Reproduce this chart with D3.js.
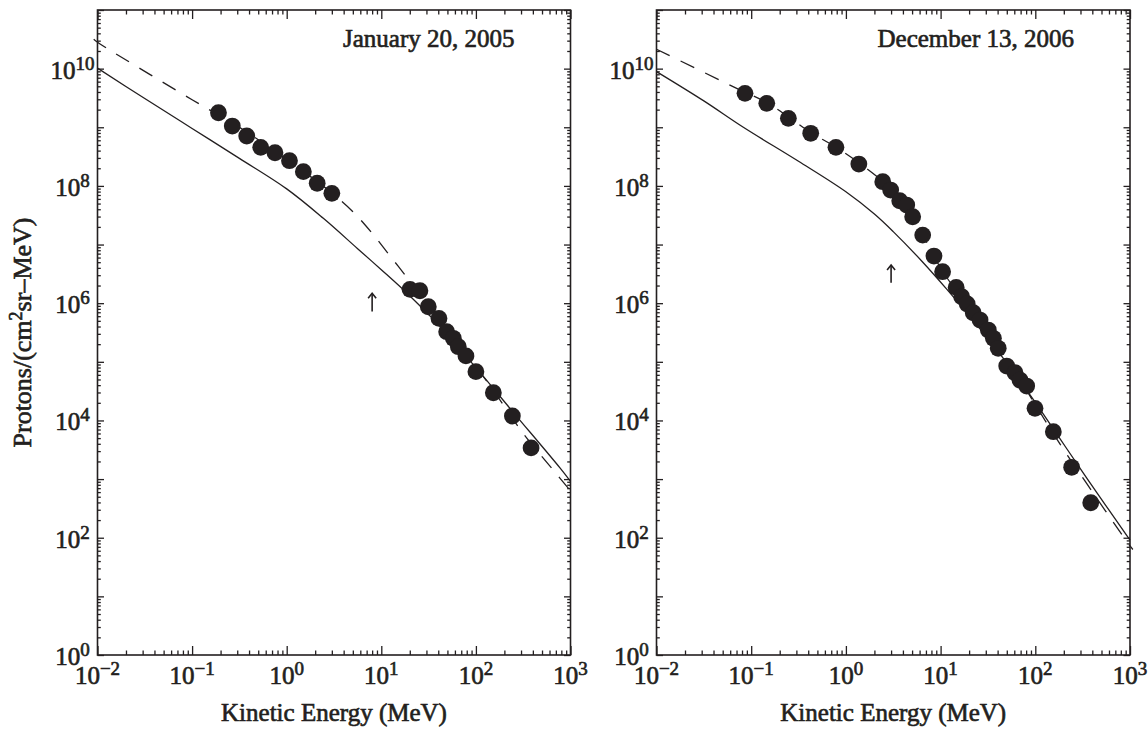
<!DOCTYPE html>
<html>
<head>
<meta charset="utf-8">
<script src="https://cdn.jsdelivr.net/npm/d3@7"></script>
<style>
body { margin: 0; background: #fff; }
text { font-family: "Liberation Serif", "Times New Roman", serif; }
</style>
</head>
<body>
<script>
// tick values
var energyMajor = [1e-2, 1e-1, 1, 10, 100, 1000];
var energyLabelExp = [-2, -1, 0, 1, 2, 3];
var fluxLabelExp = [0, 2, 4, 6, 8, 10];

// january 20, 2005
var janDotE = [0.19, 0.266, 0.378, 0.531, 0.752, 1.07, 1.5, 2.1, 3.0,
	20.1, 25.6, 31.4, 40.7, 49.1, 57.7, 65.2, 78.5, 100, 153, 243, 383];
var janDotF = [1.77e9, 1.05e9, 7.1e8, 4.55e8, 3.68e8, 2.69e8, 1.75e8, 1.11e8, 7.46e7,
	1.72e6, 1.63e6, 8.7e5, 5.5e5, 3.26e5, 2.52e5, 1.81e5, 1.26e5, 6.8e4, 2.97e4, 1.19e4, 3.4e3];
var janSolidE = [0.01, 0.0316, 0.1, 0.316, 1, 2.44, 5.62, 10, 18.7, 39.8, 100, 251, 774, 1000];
var janSolidF = [1.02e10, 3.09e9, 9.55e8, 2.95e8, 8.9e7, 2.8e7, 8.5e6, 3.72e6, 1.48e6, 4.37e5, 7.94e4, 1.35e4, 1.55e3, 912];
var janDashE = [0.00912, 0.01, 0.1, 0.316, 1, 2.0, 3.16, 5.01, 7.94, 12.6, 20.0, 31.6, 63.1, 100, 158, 316, 661, 1000];
var janDashF = [3.16e10, 2.82e10, 2.95e9, 1.0e9, 2.82e8, 1.26e8, 7.08e7, 3.63e7, 1.58e7, 6.17e6, 2.4e6, 9.55e5, 2.24e5, 8.32e4, 3.02e4, 6.03e3, 1.41e3, 631];
var janArrowE = 8;
var janArrowF = [7.2e5, 1.48e6];

// december 13, 2006
var decDotE = [0.086, 0.146, 0.247, 0.425, 0.785, 1.37, 2.45, 2.97, 3.70, 4.39, 5.07, 6.47, 8.51, 10.5,
	14.6, 16.7, 19.1, 22.1, 26.1, 31.9, 36.1, 40.6, 49.9, 61.1, 68.9, 81.1, 99.3, 155, 242, 385];
var decDotF = [3.79e9, 2.56e9, 1.42e9, 7.89e8, 4.55e8, 2.36e8, 1.18e8, 8.5e7, 5.58e7, 4.72e7, 2.98e7, 1.45e7, 6.37e6, 3.44e6,
	1.86e6, 1.29e6, 9.7e5, 6.87e5, 5.16e5, 3.48e5, 2.52e5, 1.70e5, 8.47e4, 6.52e4, 4.89e4, 3.86e4, 1.61e4, 6.43e3, 1.59e3, 3.95e2];
var decSolidE = [0.01, 0.0316, 0.0826, 0.316, 1, 2.0, 3.16, 6.31, 11.6, 20.0, 36.1, 63.1, 100, 182, 348, 1000];
var decSolidF = [8.91e9, 2.82e9, 1.0e9, 2.63e8, 7.94e7, 3.31e7, 1.66e7, 5.25e6, 1.74e6, 6.17e5, 1.91e5, 5.75e4, 2.04e4, 4.9e3, 1.05e3, 91.2];
var decDashE = [0.01, 0.0703, 0.146, 0.251, 0.425, 0.785, 1.41, 2.51, 3.98, 6.31, 10, 15.8, 25.1, 39.8, 63.1, 100, 182, 347, 1000, 1072];
var decDashF = [2.14e10, 4.61e9, 2.63e9, 1.48e9, 8.13e8, 4.57e8, 2.40e8, 1.15e8, 5.25e7, 1.58e7, 3.98e6, 1.38e6, 5.5e5, 1.86e5, 6.31e4, 1.86e4, 3.98e3, 851, 72.4, 63.1];
var decArrowE = 3;
var decArrowF = [2.24e6, 4.47e6];

var ink = "#231f20";
var plotTop = 10, plotBottom = 655;

var svg = d3.select("body").append("svg")
	.attr("width", 1148)
	.attr("height", 729);

// minor ticks 2..9 for each decade
function minorTicks(lo, hi) {
	var out = [];
	for (var n = lo; n < hi; n++) {
		for (var k = 2; k <= 9; k++) out.push(k * Math.pow(10, n));
	}
	return out;
}
var energyMinor = minorTicks(-2, 3);
var fluxMajor = d3.range(0, 12).map(function(n) {return Math.pow(10, n);});
var fluxMinor = minorTicks(0, 11);

function styleAxis(sel) {
	sel.select(".domain").remove();
	sel.selectAll("line").attr("stroke", ink).attr("stroke-width", 1.3);
}

function heavy(sel, size) {
	sel.attr("font-size", size).attr("fill", ink)
		.attr("stroke", ink).attr("stroke-width", 0.65);
}

function power(sel, exp, supSize, dy) {
	sel.append("tspan").text("10");
	sel.append("tspan")
		.attr("font-size", supSize)
		.attr("dy", dy)
		.text(exp < 0 ? "\u2212" + (-exp) : exp);
}

function drawPanel(p) {
	var x = d3.scaleLog().domain([1e-2, 1e3]).range([p.left, p.right]);
	var y = d3.scaleLog().domain([1, 1e11]).range([plotBottom, plotTop]);
	var g = svg.append("g");

	// ticks on all four sides, pointing inward
	[[d3.axisBottom, plotBottom], [d3.axisTop, plotTop]].forEach(function(a) {
		g.append("g").attr("transform", "translate(0," + a[1] + ")")
			.call(a[0](x).tickValues(energyMajor).tickSizeInner(-9).tickSizeOuter(0).tickFormat(""))
			.call(styleAxis);
		g.append("g").attr("transform", "translate(0," + a[1] + ")")
			.call(a[0](x).tickValues(energyMinor).tickSizeInner(-4.5).tickSizeOuter(0).tickFormat(""))
			.call(styleAxis);
	});
	[[d3.axisLeft, p.left], [d3.axisRight, p.right]].forEach(function(a) {
		g.append("g").attr("transform", "translate(" + a[1] + ",0)")
			.call(a[0](y).tickValues(fluxMajor).tickSizeInner(-6.5).tickSizeOuter(0).tickFormat(""))
			.call(styleAxis);
		g.append("g").attr("transform", "translate(" + a[1] + ",0)")
			.call(a[0](y).tickValues(fluxMinor).tickSizeInner(-3.3).tickSizeOuter(0).tickFormat(""))
			.call(styleAxis);
	});

	g.append("rect")
		.attr("x", p.left).attr("y", plotTop)
		.attr("width", p.right - p.left).attr("height", plotBottom - plotTop)
		.attr("fill", "none").attr("stroke", ink).attr("stroke-width", 1.6);

	// tick labels
	g.selectAll(".xlab").data(energyLabelExp).enter().append("text")
		.attr("x", function(d) {return x(Math.pow(10, d));})
		.attr("y", plotBottom + 29)
		.attr("text-anchor", "middle")
		.call(heavy, 25)
		.each(function(d) {power(d3.select(this), d, 19, -9);});
	g.selectAll(".ylab").data(fluxLabelExp).enter().append("text")
		.attr("x", p.left - 25)
		.attr("y", function(d) {return y(Math.pow(10, d)) + 10;})
		.attr("text-anchor", "middle")
		.call(heavy, 25)
		.each(function(d) {power(d3.select(this), d, 19, -9);});

	// curves
	var line = d3.line()
		.x(function(d) {return x(d[0]);})
		.y(function(d) {return y(d[1]);})
		.curve(d3.curveCatmullRom.alpha(0.5));
	g.append("path")
		.attr("d", line(d3.zip(p.solidE, p.solidF)))
		.attr("fill", "none").attr("stroke", ink).attr("stroke-width", 1.3);
	g.append("path")
		.attr("d", line(d3.zip(p.dashE, p.dashF)))
		.attr("fill", "none").attr("stroke", ink).attr("stroke-width", 1.3)
		.attr("stroke-dasharray", "15,12");

	// data points
	g.selectAll("circle").data(d3.zip(p.dotE, p.dotF)).enter().append("circle")
		.attr("cx", function(d) {return x(d[0]);})
		.attr("cy", function(d) {return y(d[1]);})
		.attr("r", 8.4)
		.attr("fill", ink);

	// arrow
	var ax = x(p.arrowE), ay0 = y(p.arrowF[0]), ay1 = y(p.arrowF[1]);
	g.append("line")
		.attr("x1", ax).attr("x2", ax).attr("y1", ay0).attr("y2", ay1 + 1)
		.attr("stroke", ink).attr("stroke-width", 1.6);
	g.append("path")
		.attr("d", "M" + (ax - 4) + "," + (ay1 + 5) + "L" + ax + "," + ay1 + "L" + (ax + 4) + "," + (ay1 + 5))
		.attr("fill", "none").attr("stroke", ink).attr("stroke-width", 1.6);

	// title and x axis label
	g.append("text")
		.attr("x", p.right - 56).attr("y", 47)
		.attr("text-anchor", "end")
		.call(heavy, 25)
		.text(p.title);
	g.append("text")
		.attr("x", (p.left + p.right) / 2).attr("y", 721)
		.attr("text-anchor", "middle")
		.call(heavy, 25)
		.text("Kinetic Energy (MeV)");
}

drawPanel({title: "January 20, 2005", left: 97.5, right: 570.5,
	dotE: janDotE, dotF: janDotF, solidE: janSolidE, solidF: janSolidF,
	dashE: janDashE, dashF: janDashF, arrowE: janArrowE, arrowF: janArrowF});
drawPanel({title: "December 13, 2006", left: 656.5, right: 1130,
	dotE: decDotE, dotF: decDotF, solidE: decSolidE, solidF: decSolidF,
	dashE: decDashE, dashF: decDashF, arrowE: decArrowE, arrowF: decArrowF});

// y axis label
var ylab = svg.append("text")
	.attr("transform", "translate(31," + (plotTop + plotBottom) / 2 + ") rotate(-90)")
	.attr("text-anchor", "middle")
	.call(heavy, 26);
ylab.append("tspan").text("Protons/(cm");
ylab.append("tspan").attr("font-size", 18).attr("dy", -9).text("2");
ylab.append("tspan").attr("dy", 9).text("sr\u2013MeV)");
</script>
</body>
</html>
